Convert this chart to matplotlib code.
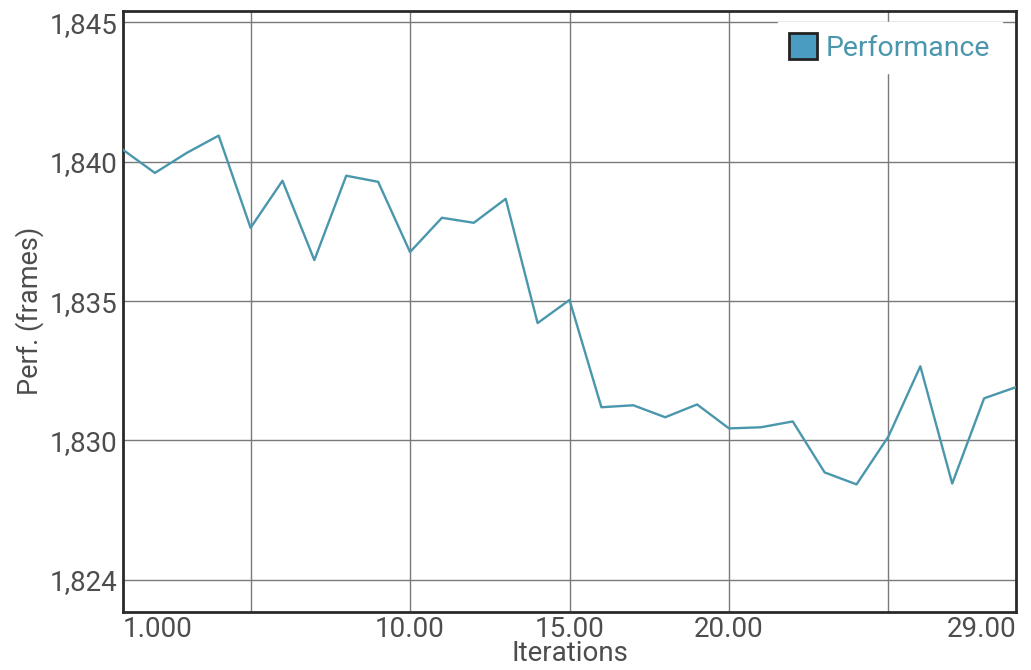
import matplotlib.pyplot as plt
from matplotlib.patches import Patch

linecolor = '#4a97ad'
textcolor = '#4d4d4d'
DPI = 100

iterations = list(range(1, 30))
perf = [1840.43, 1839.60, 1840.32, 1840.94, 1837.63, 1839.32, 1836.47, 1839.50,
        1839.28, 1836.76, 1837.99, 1837.81, 1838.67, 1834.21, 1835.04, 1831.19,
        1831.26, 1830.83, 1831.29, 1830.43, 1830.47, 1830.68, 1828.85, 1828.42,
        1830.14, 1832.66, 1828.45, 1831.51, 1831.91]

xticks = [1, 5, 10, 15, 20, 25, 29]
xticklabels = ['1.000', '', '10.00', '15.00', '20.00', '', '29.00']
yticks = [1825, 1830, 1835, 1840, 1845]
yticklabels = ['1,824', '1,830', '1,835', '1,840', '1,845']

plt.rcParams['font.family'] = ['Roboto', 'DejaVu Sans']

fig = plt.figure(figsize=(10.31, 6.70), dpi=DPI)
ax = fig.add_axes([123 / 1031, 1 - 612 / 670, (1016 - 123) / 1031, (612 - 10.5) / 670])

ax.plot(iterations, perf, color=linecolor, lw=1.7, zorder=3)
ax.set_xlim(1, 29)
ax.set_ylim(1823.84, 1845.43)

ax.set_xticks(xticks)
ax.set_xticklabels(xticklabels)
ax.set_yticks(yticks)
ax.set_yticklabels(yticklabels)
labels = ax.get_xticklabels()
labels[0].set_horizontalalignment('left')
labels[-1].set_horizontalalignment('right')

ax.grid(True, color='#7a7a7a', lw=1)
ax.set_axisbelow(True)
for s in ax.spines.values():
    s.set_color('#2a2a2a')
    s.set_linewidth(2)

ax.tick_params(axis='y', length=0, labelsize=20, colors=textcolor, pad=4)
ax.tick_params(axis='x', length=0, labelsize=20, colors=textcolor, pad=3)
ax.set_xlabel('Iterations', fontsize=20, color=textcolor, labelpad=-2)
ax.set_ylabel('Perf. (frames)', fontsize=19.5, color=textcolor, labelpad=4)

handle = Patch(facecolor='#4a9cc0', edgecolor='#222222', lw=2, label='Performance')
leg = ax.legend(handles=[handle], loc='upper right', fontsize=20.5, frameon=True,
                fancybox=False, handlelength=1.0, handleheight=1.0,
                handletextpad=0.3, borderpad=0.4, bbox_to_anchor=(1.0, 1.005))
leg.get_frame().set_edgecolor('white')
leg.get_frame().set_alpha(1)
for t in leg.get_texts():
    t.set_color(linecolor)

plt.savefig('out.png', dpi=DPI)
